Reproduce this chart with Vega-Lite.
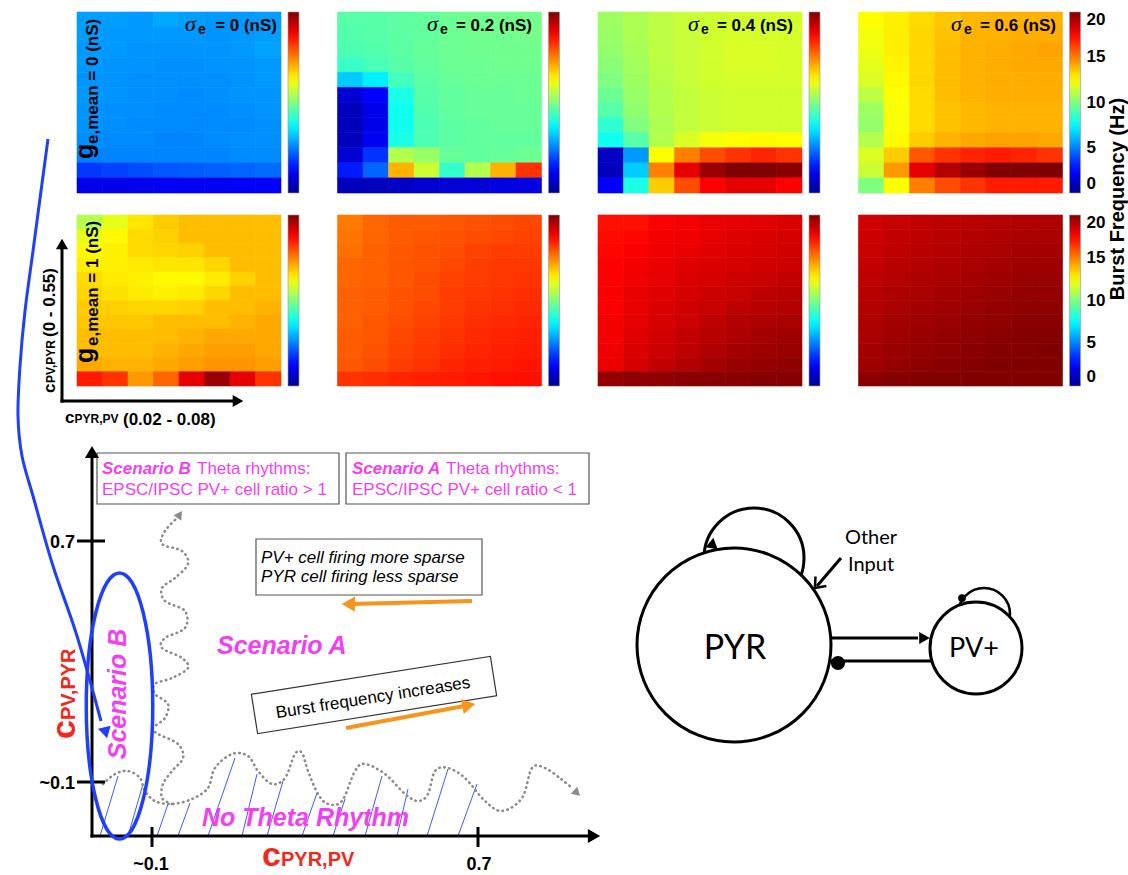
{
"$schema":"https://vega.github.io/schema/vega-lite/v6.json",
"padding":{"left":11,"top":11,"right":0,"bottom":0},
"autosize":{"type":"pad"},
"bounds":"flush",
"columns":4,
"spacing":{"row":22,"column":56.5},
"align":{"row":"each","column":"all"},
"config":{"view":{"stroke":null},"font":"Liberation Sans"},
"resolve":{"scale":{"color":"independent","stroke":"independent"},"legend":{"color":"independent"}},
"datasets":{
"cells":[
{"p":1,"i":0,"j":11,"v":5.6},{"p":1,"i":1,"j":11,"v":5.6},{"p":1,"i":2,"j":11,"v":5.5},{"p":1,"i":3,"j":11,"v":5.8},{"p":1,"i":4,"j":11,"v":5.6},{"p":1,"i":5,"j":11,"v":5.5},{"p":1,"i":6,"j":11,"v":5.5},{"p":1,"i":7,"j":11,"v":5.6},
{"p":1,"i":0,"j":10,"v":5.6},{"p":1,"i":1,"j":10,"v":5.5},{"p":1,"i":2,"j":10,"v":5.5},{"p":1,"i":3,"j":10,"v":5.5},{"p":1,"i":4,"j":10,"v":5.5},{"p":1,"i":5,"j":10,"v":5.4},{"p":1,"i":6,"j":10,"v":5.5},{"p":1,"i":7,"j":10,"v":5.6},
{"p":1,"i":0,"j":9,"v":5.5},{"p":1,"i":1,"j":9,"v":5.5},{"p":1,"i":2,"j":9,"v":5.4},{"p":1,"i":3,"j":9,"v":5.4},{"p":1,"i":4,"j":9,"v":5.4},{"p":1,"i":5,"j":9,"v":5.4},{"p":1,"i":6,"j":9,"v":5.5},{"p":1,"i":7,"j":9,"v":5.7},
{"p":1,"i":0,"j":8,"v":5.5},{"p":1,"i":1,"j":8,"v":5.4},{"p":1,"i":2,"j":8,"v":5.4},{"p":1,"i":3,"j":8,"v":5.3},{"p":1,"i":4,"j":8,"v":5.3},{"p":1,"i":5,"j":8,"v":5.4},{"p":1,"i":6,"j":8,"v":5.4},{"p":1,"i":7,"j":8,"v":5.5},
{"p":1,"i":0,"j":7,"v":5.4},{"p":1,"i":1,"j":7,"v":5.4},{"p":1,"i":2,"j":7,"v":5.3},{"p":1,"i":3,"j":7,"v":5.3},{"p":1,"i":4,"j":7,"v":5.3},{"p":1,"i":5,"j":7,"v":5.3},{"p":1,"i":6,"j":7,"v":5.4},{"p":1,"i":7,"j":7,"v":5.5},
{"p":1,"i":0,"j":6,"v":5.5},{"p":1,"i":1,"j":6,"v":5.4},{"p":1,"i":2,"j":6,"v":5.3},{"p":1,"i":3,"j":6,"v":5.3},{"p":1,"i":4,"j":6,"v":5.2},{"p":1,"i":5,"j":6,"v":5.3},{"p":1,"i":6,"j":6,"v":5.4},{"p":1,"i":7,"j":6,"v":5.4},
{"p":1,"i":0,"j":5,"v":5.4},{"p":1,"i":1,"j":5,"v":5.3},{"p":1,"i":2,"j":5,"v":5.3},{"p":1,"i":3,"j":5,"v":5.2},{"p":1,"i":4,"j":5,"v":5.2},{"p":1,"i":5,"j":5,"v":5.2},{"p":1,"i":6,"j":5,"v":5.3},{"p":1,"i":7,"j":5,"v":5.4},
{"p":1,"i":0,"j":4,"v":5.4},{"p":1,"i":1,"j":4,"v":5.3},{"p":1,"i":2,"j":4,"v":5.2},{"p":1,"i":3,"j":4,"v":5.2},{"p":1,"i":4,"j":4,"v":5.2},{"p":1,"i":5,"j":4,"v":5.2},{"p":1,"i":6,"j":4,"v":5.2},{"p":1,"i":7,"j":4,"v":5.3},
{"p":1,"i":0,"j":3,"v":5.3},{"p":1,"i":1,"j":3,"v":5.2},{"p":1,"i":2,"j":3,"v":5.2},{"p":1,"i":3,"j":3,"v":5.1},{"p":1,"i":4,"j":3,"v":5.1},{"p":1,"i":5,"j":3,"v":5.2},{"p":1,"i":6,"j":3,"v":5.3},{"p":1,"i":7,"j":3,"v":5.3},
{"p":1,"i":0,"j":2,"v":5.0},{"p":1,"i":1,"j":2,"v":5.1},{"p":1,"i":2,"j":2,"v":5.1},{"p":1,"i":3,"j":2,"v":5.1},{"p":1,"i":4,"j":2,"v":5.1},{"p":1,"i":5,"j":2,"v":5.1},{"p":1,"i":6,"j":2,"v":5.2},{"p":1,"i":7,"j":2,"v":5.2},
{"p":1,"i":0,"j":1,"v":3.6},{"p":1,"i":1,"j":1,"v":3.8},{"p":1,"i":2,"j":1,"v":4.0},{"p":1,"i":3,"j":1,"v":4.2},{"p":1,"i":4,"j":1,"v":4.3},{"p":1,"i":5,"j":1,"v":4.4},{"p":1,"i":6,"j":1,"v":4.5},{"p":1,"i":7,"j":1,"v":4.6},
{"p":1,"i":0,"j":0,"v":2.0},{"p":1,"i":1,"j":0,"v":2.0},{"p":1,"i":2,"j":0,"v":2.1},{"p":1,"i":3,"j":0,"v":2.2},{"p":1,"i":4,"j":0,"v":2.2},{"p":1,"i":5,"j":0,"v":2.2},{"p":1,"i":6,"j":0,"v":2.3},{"p":1,"i":7,"j":0,"v":2.3},
{"p":2,"i":0,"j":11,"v":9.2},{"p":2,"i":1,"j":11,"v":9.2},{"p":2,"i":2,"j":11,"v":9.3},{"p":2,"i":3,"j":11,"v":9.4},{"p":2,"i":4,"j":11,"v":9.6},{"p":2,"i":5,"j":11,"v":9.7},{"p":2,"i":6,"j":11,"v":9.7},{"p":2,"i":7,"j":11,"v":9.8},
{"p":2,"i":0,"j":10,"v":9.1},{"p":2,"i":1,"j":10,"v":9.2},{"p":2,"i":2,"j":10,"v":9.3},{"p":2,"i":3,"j":10,"v":9.4},{"p":2,"i":4,"j":10,"v":9.6},{"p":2,"i":5,"j":10,"v":9.7},{"p":2,"i":6,"j":10,"v":9.7},{"p":2,"i":7,"j":10,"v":9.8},
{"p":2,"i":0,"j":9,"v":9.0},{"p":2,"i":1,"j":9,"v":9.1},{"p":2,"i":2,"j":9,"v":9.3},{"p":2,"i":3,"j":9,"v":9.5},{"p":2,"i":4,"j":9,"v":9.6},{"p":2,"i":5,"j":9,"v":9.7},{"p":2,"i":6,"j":9,"v":9.7},{"p":2,"i":7,"j":9,"v":9.7},
{"p":2,"i":0,"j":8,"v":8.6},{"p":2,"i":1,"j":8,"v":8.9},{"p":2,"i":2,"j":8,"v":9.2},{"p":2,"i":3,"j":8,"v":9.4},{"p":2,"i":4,"j":8,"v":9.6},{"p":2,"i":5,"j":8,"v":9.6},{"p":2,"i":6,"j":8,"v":9.7},{"p":2,"i":7,"j":8,"v":9.7},
{"p":2,"i":0,"j":7,"v":6.5},{"p":2,"i":1,"j":7,"v":7.2},{"p":2,"i":2,"j":7,"v":8.8},{"p":2,"i":3,"j":7,"v":9.3},{"p":2,"i":4,"j":7,"v":9.5},{"p":2,"i":5,"j":7,"v":9.6},{"p":2,"i":6,"j":7,"v":9.6},{"p":2,"i":7,"j":7,"v":9.6},
{"p":2,"i":0,"j":6,"v":1.5},{"p":2,"i":1,"j":6,"v":2.5},{"p":2,"i":2,"j":6,"v":8.0},{"p":2,"i":3,"j":6,"v":9.2},{"p":2,"i":4,"j":6,"v":9.4},{"p":2,"i":5,"j":6,"v":9.5},{"p":2,"i":6,"j":6,"v":9.5},{"p":2,"i":7,"j":6,"v":9.6},
{"p":2,"i":0,"j":5,"v":1.0},{"p":2,"i":1,"j":5,"v":2.0},{"p":2,"i":2,"j":5,"v":7.8},{"p":2,"i":3,"j":5,"v":9.1},{"p":2,"i":4,"j":5,"v":9.4},{"p":2,"i":5,"j":5,"v":9.5},{"p":2,"i":6,"j":5,"v":9.5},{"p":2,"i":7,"j":5,"v":9.5},
{"p":2,"i":0,"j":4,"v":1.0},{"p":2,"i":1,"j":4,"v":2.0},{"p":2,"i":2,"j":4,"v":7.8},{"p":2,"i":3,"j":4,"v":9.0},{"p":2,"i":4,"j":4,"v":9.3},{"p":2,"i":5,"j":4,"v":9.4},{"p":2,"i":6,"j":4,"v":9.5},{"p":2,"i":7,"j":4,"v":9.5},
{"p":2,"i":0,"j":3,"v":1.0},{"p":2,"i":1,"j":3,"v":2.2},{"p":2,"i":2,"j":3,"v":8.0},{"p":2,"i":3,"j":3,"v":9.0},{"p":2,"i":4,"j":3,"v":9.3},{"p":2,"i":5,"j":3,"v":9.4},{"p":2,"i":6,"j":3,"v":9.4},{"p":2,"i":7,"j":3,"v":9.4},
{"p":2,"i":0,"j":2,"v":1.5},{"p":2,"i":1,"j":2,"v":3.5},{"p":2,"i":2,"j":2,"v":11.0},{"p":2,"i":3,"j":2,"v":10.5},{"p":2,"i":4,"j":2,"v":9.5},{"p":2,"i":5,"j":2,"v":9.4},{"p":2,"i":6,"j":2,"v":9.5},{"p":2,"i":7,"j":2,"v":9.6},
{"p":2,"i":0,"j":1,"v":3.0},{"p":2,"i":1,"j":1,"v":4.5},{"p":2,"i":2,"j":1,"v":14.0},{"p":2,"i":3,"j":1,"v":11.5},{"p":2,"i":4,"j":1,"v":8.5},{"p":2,"i":5,"j":1,"v":11.0},{"p":2,"i":6,"j":1,"v":14.0},{"p":2,"i":7,"j":1,"v":16.5},
{"p":2,"i":0,"j":0,"v":1.0},{"p":2,"i":1,"j":0,"v":1.0},{"p":2,"i":2,"j":0,"v":1.2},{"p":2,"i":3,"j":0,"v":1.4},{"p":2,"i":4,"j":0,"v":1.6},{"p":2,"i":5,"j":0,"v":1.6},{"p":2,"i":6,"j":0,"v":1.8},{"p":2,"i":7,"j":0,"v":1.8},
{"p":3,"i":0,"j":11,"v":10.6},{"p":3,"i":1,"j":11,"v":10.9},{"p":3,"i":2,"j":11,"v":11.2},{"p":3,"i":3,"j":11,"v":11.4},{"p":3,"i":4,"j":11,"v":11.5},{"p":3,"i":5,"j":11,"v":11.6},{"p":3,"i":6,"j":11,"v":11.6},{"p":3,"i":7,"j":11,"v":11.7},
{"p":3,"i":0,"j":10,"v":10.5},{"p":3,"i":1,"j":10,"v":10.9},{"p":3,"i":2,"j":10,"v":11.2},{"p":3,"i":3,"j":10,"v":11.4},{"p":3,"i":4,"j":10,"v":11.6},{"p":3,"i":5,"j":10,"v":11.7},{"p":3,"i":6,"j":10,"v":11.7},{"p":3,"i":7,"j":10,"v":11.7},
{"p":3,"i":0,"j":9,"v":10.4},{"p":3,"i":1,"j":9,"v":10.8},{"p":3,"i":2,"j":9,"v":11.2},{"p":3,"i":3,"j":9,"v":11.4},{"p":3,"i":4,"j":9,"v":11.6},{"p":3,"i":5,"j":9,"v":11.8},{"p":3,"i":6,"j":9,"v":11.8},{"p":3,"i":7,"j":9,"v":11.7},
{"p":3,"i":0,"j":8,"v":10.2},{"p":3,"i":1,"j":8,"v":10.7},{"p":3,"i":2,"j":8,"v":11.2},{"p":3,"i":3,"j":8,"v":11.4},{"p":3,"i":4,"j":8,"v":11.6},{"p":3,"i":5,"j":8,"v":11.8},{"p":3,"i":6,"j":8,"v":11.8},{"p":3,"i":7,"j":8,"v":11.7},
{"p":3,"i":0,"j":7,"v":10.0},{"p":3,"i":1,"j":7,"v":10.6},{"p":3,"i":2,"j":7,"v":11.1},{"p":3,"i":3,"j":7,"v":11.4},{"p":3,"i":4,"j":7,"v":11.6},{"p":3,"i":5,"j":7,"v":11.7},{"p":3,"i":6,"j":7,"v":11.7},{"p":3,"i":7,"j":7,"v":11.7},
{"p":3,"i":0,"j":6,"v":9.6},{"p":3,"i":1,"j":6,"v":10.5},{"p":3,"i":2,"j":6,"v":11.0},{"p":3,"i":3,"j":6,"v":11.3},{"p":3,"i":4,"j":6,"v":11.5},{"p":3,"i":5,"j":6,"v":11.6},{"p":3,"i":6,"j":6,"v":11.6},{"p":3,"i":7,"j":6,"v":11.6},
{"p":3,"i":0,"j":5,"v":9.2},{"p":3,"i":1,"j":5,"v":10.3},{"p":3,"i":2,"j":5,"v":11.0},{"p":3,"i":3,"j":5,"v":11.3},{"p":3,"i":4,"j":5,"v":11.5},{"p":3,"i":5,"j":5,"v":11.6},{"p":3,"i":6,"j":5,"v":11.6},{"p":3,"i":7,"j":5,"v":11.6},
{"p":3,"i":0,"j":4,"v":8.4},{"p":3,"i":1,"j":4,"v":10.0},{"p":3,"i":2,"j":4,"v":10.9},{"p":3,"i":3,"j":4,"v":11.3},{"p":3,"i":4,"j":4,"v":11.5},{"p":3,"i":5,"j":4,"v":11.6},{"p":3,"i":6,"j":4,"v":11.6},{"p":3,"i":7,"j":4,"v":11.6},
{"p":3,"i":0,"j":3,"v":7.8},{"p":3,"i":1,"j":3,"v":9.2},{"p":3,"i":2,"j":3,"v":11.0},{"p":3,"i":3,"j":3,"v":11.8},{"p":3,"i":4,"j":3,"v":12.3},{"p":3,"i":5,"j":3,"v":12.5},{"p":3,"i":6,"j":3,"v":12.6},{"p":3,"i":7,"j":3,"v":12.5},
{"p":3,"i":0,"j":2,"v":1.2},{"p":3,"i":1,"j":2,"v":5.5},{"p":3,"i":2,"j":2,"v":12.5},{"p":3,"i":3,"j":2,"v":15.0},{"p":3,"i":4,"j":2,"v":16.0},{"p":3,"i":5,"j":2,"v":16.5},{"p":3,"i":6,"j":2,"v":16.8},{"p":3,"i":7,"j":2,"v":16.5},
{"p":3,"i":0,"j":1,"v":1.0},{"p":3,"i":1,"j":1,"v":6.5},{"p":3,"i":2,"j":1,"v":15.0},{"p":3,"i":3,"j":1,"v":18.0},{"p":3,"i":4,"j":1,"v":19.5},{"p":3,"i":5,"j":1,"v":20.0},{"p":3,"i":6,"j":1,"v":20.0},{"p":3,"i":7,"j":1,"v":19.8},
{"p":3,"i":0,"j":0,"v":2.5},{"p":3,"i":1,"j":0,"v":8.0},{"p":3,"i":2,"j":0,"v":13.5},{"p":3,"i":3,"j":0,"v":16.0},{"p":3,"i":4,"j":0,"v":17.5},{"p":3,"i":5,"j":0,"v":18.0},{"p":3,"i":6,"j":0,"v":18.0},{"p":3,"i":7,"j":0,"v":17.5},
{"p":4,"i":0,"j":11,"v":12.5},{"p":4,"i":1,"j":11,"v":12.8},{"p":4,"i":2,"j":11,"v":13.2},{"p":4,"i":3,"j":11,"v":13.6},{"p":4,"i":4,"j":11,"v":13.9},{"p":4,"i":5,"j":11,"v":14.0},{"p":4,"i":6,"j":11,"v":14.0},{"p":4,"i":7,"j":11,"v":14.0},
{"p":4,"i":0,"j":10,"v":12.3},{"p":4,"i":1,"j":10,"v":12.8},{"p":4,"i":2,"j":10,"v":13.3},{"p":4,"i":3,"j":10,"v":13.7},{"p":4,"i":4,"j":10,"v":14.0},{"p":4,"i":5,"j":10,"v":14.0},{"p":4,"i":6,"j":10,"v":14.1},{"p":4,"i":7,"j":10,"v":14.1},
{"p":4,"i":0,"j":9,"v":12.2},{"p":4,"i":1,"j":9,"v":12.8},{"p":4,"i":2,"j":9,"v":13.3},{"p":4,"i":3,"j":9,"v":13.8},{"p":4,"i":4,"j":9,"v":14.0},{"p":4,"i":5,"j":9,"v":14.1},{"p":4,"i":6,"j":9,"v":14.2},{"p":4,"i":7,"j":9,"v":14.3},
{"p":4,"i":0,"j":8,"v":12.0},{"p":4,"i":1,"j":8,"v":12.7},{"p":4,"i":2,"j":8,"v":13.3},{"p":4,"i":3,"j":8,"v":13.8},{"p":4,"i":4,"j":8,"v":14.0},{"p":4,"i":5,"j":8,"v":14.1},{"p":4,"i":6,"j":8,"v":14.2},{"p":4,"i":7,"j":8,"v":14.2},
{"p":4,"i":0,"j":7,"v":11.8},{"p":4,"i":1,"j":7,"v":12.6},{"p":4,"i":2,"j":7,"v":13.3},{"p":4,"i":3,"j":7,"v":13.8},{"p":4,"i":4,"j":7,"v":14.0},{"p":4,"i":5,"j":7,"v":14.1},{"p":4,"i":6,"j":7,"v":14.1},{"p":4,"i":7,"j":7,"v":14.1},
{"p":4,"i":0,"j":6,"v":11.2},{"p":4,"i":1,"j":6,"v":12.5},{"p":4,"i":2,"j":6,"v":13.2},{"p":4,"i":3,"j":6,"v":13.8},{"p":4,"i":4,"j":6,"v":14.0},{"p":4,"i":5,"j":6,"v":14.1},{"p":4,"i":6,"j":6,"v":14.1},{"p":4,"i":7,"j":6,"v":14.1},
{"p":4,"i":0,"j":5,"v":10.6},{"p":4,"i":1,"j":5,"v":12.4},{"p":4,"i":2,"j":5,"v":13.2},{"p":4,"i":3,"j":5,"v":13.7},{"p":4,"i":4,"j":5,"v":13.9},{"p":4,"i":5,"j":5,"v":14.0},{"p":4,"i":6,"j":5,"v":14.0},{"p":4,"i":7,"j":5,"v":14.0},
{"p":4,"i":0,"j":4,"v":10.4},{"p":4,"i":1,"j":4,"v":12.4},{"p":4,"i":2,"j":4,"v":13.2},{"p":4,"i":3,"j":4,"v":13.7},{"p":4,"i":4,"j":4,"v":13.9},{"p":4,"i":5,"j":4,"v":14.0},{"p":4,"i":6,"j":4,"v":14.0},{"p":4,"i":7,"j":4,"v":14.0},
{"p":4,"i":0,"j":3,"v":11.0},{"p":4,"i":1,"j":3,"v":12.6},{"p":4,"i":2,"j":3,"v":13.5},{"p":4,"i":3,"j":3,"v":14.0},{"p":4,"i":4,"j":3,"v":14.2},{"p":4,"i":5,"j":3,"v":14.3},{"p":4,"i":6,"j":3,"v":14.3},{"p":4,"i":7,"j":3,"v":14.2},
{"p":4,"i":0,"j":2,"v":11.8},{"p":4,"i":1,"j":2,"v":13.5},{"p":4,"i":2,"j":2,"v":15.8},{"p":4,"i":3,"j":2,"v":16.5},{"p":4,"i":4,"j":2,"v":16.8},{"p":4,"i":5,"j":2,"v":17.0},{"p":4,"i":6,"j":2,"v":16.8},{"p":4,"i":7,"j":2,"v":16.5},
{"p":4,"i":0,"j":1,"v":11.5},{"p":4,"i":1,"j":1,"v":14.5},{"p":4,"i":2,"j":1,"v":18.0},{"p":4,"i":3,"j":1,"v":19.0},{"p":4,"i":4,"j":1,"v":19.5},{"p":4,"i":5,"j":1,"v":20.0},{"p":4,"i":6,"j":1,"v":20.0},{"p":4,"i":7,"j":1,"v":20.0},
{"p":4,"i":0,"j":0,"v":10.0},{"p":4,"i":1,"j":0,"v":12.5},{"p":4,"i":2,"j":0,"v":15.0},{"p":4,"i":3,"j":0,"v":16.0},{"p":4,"i":4,"j":0,"v":16.5},{"p":4,"i":5,"j":0,"v":17.0},{"p":4,"i":6,"j":0,"v":17.0},{"p":4,"i":7,"j":0,"v":17.0},
{"p":5,"i":0,"j":11,"v":11.0},{"p":5,"i":1,"j":11,"v":12.0},{"p":5,"i":2,"j":11,"v":13.0},{"p":5,"i":3,"j":11,"v":13.5},{"p":5,"i":4,"j":11,"v":13.8},{"p":5,"i":5,"j":11,"v":13.8},{"p":5,"i":6,"j":11,"v":13.8},{"p":5,"i":7,"j":11,"v":13.8},
{"p":5,"i":0,"j":10,"v":12.0},{"p":5,"i":1,"j":10,"v":12.6},{"p":5,"i":2,"j":10,"v":13.2},{"p":5,"i":3,"j":10,"v":13.4},{"p":5,"i":4,"j":10,"v":13.8},{"p":5,"i":5,"j":10,"v":13.8},{"p":5,"i":6,"j":10,"v":13.8},{"p":5,"i":7,"j":10,"v":13.8},
{"p":5,"i":0,"j":9,"v":12.6},{"p":5,"i":1,"j":9,"v":12.8},{"p":5,"i":2,"j":9,"v":13.2},{"p":5,"i":3,"j":9,"v":13.3},{"p":5,"i":4,"j":9,"v":13.4},{"p":5,"i":5,"j":9,"v":13.8},{"p":5,"i":6,"j":9,"v":13.8},{"p":5,"i":7,"j":9,"v":13.8},
{"p":5,"i":0,"j":8,"v":12.8},{"p":5,"i":1,"j":8,"v":12.8},{"p":5,"i":2,"j":8,"v":12.9},{"p":5,"i":3,"j":8,"v":13.0},{"p":5,"i":4,"j":8,"v":13.0},{"p":5,"i":5,"j":8,"v":13.3},{"p":5,"i":6,"j":8,"v":13.8},{"p":5,"i":7,"j":8,"v":13.8},
{"p":5,"i":0,"j":7,"v":13.2},{"p":5,"i":1,"j":7,"v":12.9},{"p":5,"i":2,"j":7,"v":12.8},{"p":5,"i":3,"j":7,"v":12.6},{"p":5,"i":4,"j":7,"v":12.6},{"p":5,"i":5,"j":7,"v":12.9},{"p":5,"i":6,"j":7,"v":13.4},{"p":5,"i":7,"j":7,"v":13.8},
{"p":5,"i":0,"j":6,"v":13.3},{"p":5,"i":1,"j":6,"v":13.1},{"p":5,"i":2,"j":6,"v":12.9},{"p":5,"i":3,"j":6,"v":12.8},{"p":5,"i":4,"j":6,"v":12.9},{"p":5,"i":5,"j":6,"v":13.3},{"p":5,"i":6,"j":6,"v":13.8},{"p":5,"i":7,"j":6,"v":13.8},
{"p":5,"i":0,"j":5,"v":13.5},{"p":5,"i":1,"j":5,"v":13.4},{"p":5,"i":2,"j":5,"v":13.3},{"p":5,"i":3,"j":5,"v":13.3},{"p":5,"i":4,"j":5,"v":13.4},{"p":5,"i":5,"j":5,"v":13.8},{"p":5,"i":6,"j":5,"v":13.8},{"p":5,"i":7,"j":5,"v":14.0},
{"p":5,"i":0,"j":4,"v":13.6},{"p":5,"i":1,"j":4,"v":13.6},{"p":5,"i":2,"j":4,"v":13.6},{"p":5,"i":3,"j":4,"v":13.8},{"p":5,"i":4,"j":4,"v":13.8},{"p":5,"i":5,"j":4,"v":13.8},{"p":5,"i":6,"j":4,"v":14.0},{"p":5,"i":7,"j":4,"v":14.2},
{"p":5,"i":0,"j":3,"v":13.8},{"p":5,"i":1,"j":3,"v":13.8},{"p":5,"i":2,"j":3,"v":13.8},{"p":5,"i":3,"j":3,"v":13.8},{"p":5,"i":4,"j":3,"v":14.0},{"p":5,"i":5,"j":3,"v":14.2},{"p":5,"i":6,"j":3,"v":14.2},{"p":5,"i":7,"j":3,"v":14.2},
{"p":5,"i":0,"j":2,"v":13.8},{"p":5,"i":1,"j":2,"v":13.8},{"p":5,"i":2,"j":2,"v":13.8},{"p":5,"i":3,"j":2,"v":14.0},{"p":5,"i":4,"j":2,"v":14.2},{"p":5,"i":5,"j":2,"v":14.4},{"p":5,"i":6,"j":2,"v":14.4},{"p":5,"i":7,"j":2,"v":14.2},
{"p":5,"i":0,"j":1,"v":14.2},{"p":5,"i":1,"j":1,"v":14.0},{"p":5,"i":2,"j":1,"v":14.0},{"p":5,"i":3,"j":1,"v":14.2},{"p":5,"i":4,"j":1,"v":14.4},{"p":5,"i":5,"j":1,"v":14.6},{"p":5,"i":6,"j":1,"v":14.6},{"p":5,"i":7,"j":1,"v":14.4},
{"p":5,"i":0,"j":0,"v":17.0},{"p":5,"i":1,"j":0,"v":16.5},{"p":5,"i":2,"j":0,"v":14.5},{"p":5,"i":3,"j":0,"v":15.5},{"p":5,"i":4,"j":0,"v":18.0},{"p":5,"i":5,"j":0,"v":19.5},{"p":5,"i":6,"j":0,"v":18.0},{"p":5,"i":7,"j":0,"v":16.5},
{"p":6,"i":0,"j":11,"v":15.1},{"p":6,"i":1,"j":11,"v":15.5},{"p":6,"i":2,"j":11,"v":15.7},{"p":6,"i":3,"j":11,"v":15.7},{"p":6,"i":4,"j":11,"v":15.8},{"p":6,"i":5,"j":11,"v":15.9},{"p":6,"i":6,"j":11,"v":16.0},{"p":6,"i":7,"j":11,"v":16.1},
{"p":6,"i":0,"j":10,"v":15.2},{"p":6,"i":1,"j":10,"v":15.5},{"p":6,"i":2,"j":10,"v":15.7},{"p":6,"i":3,"j":10,"v":15.8},{"p":6,"i":4,"j":10,"v":15.9},{"p":6,"i":5,"j":10,"v":16.0},{"p":6,"i":6,"j":10,"v":16.1},{"p":6,"i":7,"j":10,"v":16.2},
{"p":6,"i":0,"j":9,"v":15.3},{"p":6,"i":1,"j":9,"v":15.6},{"p":6,"i":2,"j":9,"v":15.8},{"p":6,"i":3,"j":9,"v":15.9},{"p":6,"i":4,"j":9,"v":16.0},{"p":6,"i":5,"j":9,"v":16.2},{"p":6,"i":6,"j":9,"v":16.3},{"p":6,"i":7,"j":9,"v":16.3},
{"p":6,"i":0,"j":8,"v":15.5},{"p":6,"i":1,"j":8,"v":15.6},{"p":6,"i":2,"j":8,"v":15.8},{"p":6,"i":3,"j":8,"v":15.9},{"p":6,"i":4,"j":8,"v":16.1},{"p":6,"i":5,"j":8,"v":16.3},{"p":6,"i":6,"j":8,"v":16.4},{"p":6,"i":7,"j":8,"v":16.4},
{"p":6,"i":0,"j":7,"v":15.5},{"p":6,"i":1,"j":7,"v":15.6},{"p":6,"i":2,"j":7,"v":15.8},{"p":6,"i":3,"j":7,"v":16.0},{"p":6,"i":4,"j":7,"v":16.2},{"p":6,"i":5,"j":7,"v":16.3},{"p":6,"i":6,"j":7,"v":16.4},{"p":6,"i":7,"j":7,"v":16.5},
{"p":6,"i":0,"j":6,"v":15.6},{"p":6,"i":1,"j":6,"v":15.7},{"p":6,"i":2,"j":6,"v":15.9},{"p":6,"i":3,"j":6,"v":16.0},{"p":6,"i":4,"j":6,"v":16.3},{"p":6,"i":5,"j":6,"v":16.4},{"p":6,"i":6,"j":6,"v":16.5},{"p":6,"i":7,"j":6,"v":16.6},
{"p":6,"i":0,"j":5,"v":15.6},{"p":6,"i":1,"j":5,"v":15.7},{"p":6,"i":2,"j":5,"v":15.9},{"p":6,"i":3,"j":5,"v":16.1},{"p":6,"i":4,"j":5,"v":16.3},{"p":6,"i":5,"j":5,"v":16.5},{"p":6,"i":6,"j":5,"v":16.6},{"p":6,"i":7,"j":5,"v":16.7},
{"p":6,"i":0,"j":4,"v":15.6},{"p":6,"i":1,"j":4,"v":15.8},{"p":6,"i":2,"j":4,"v":16.0},{"p":6,"i":3,"j":4,"v":16.2},{"p":6,"i":4,"j":4,"v":16.4},{"p":6,"i":5,"j":4,"v":16.6},{"p":6,"i":6,"j":4,"v":16.7},{"p":6,"i":7,"j":4,"v":16.8},
{"p":6,"i":0,"j":3,"v":15.7},{"p":6,"i":1,"j":3,"v":15.8},{"p":6,"i":2,"j":3,"v":16.1},{"p":6,"i":3,"j":3,"v":16.3},{"p":6,"i":4,"j":3,"v":16.5},{"p":6,"i":5,"j":3,"v":16.7},{"p":6,"i":6,"j":3,"v":16.8},{"p":6,"i":7,"j":3,"v":16.9},
{"p":6,"i":0,"j":2,"v":15.7},{"p":6,"i":1,"j":2,"v":15.9},{"p":6,"i":2,"j":2,"v":16.2},{"p":6,"i":3,"j":2,"v":16.4},{"p":6,"i":4,"j":2,"v":16.6},{"p":6,"i":5,"j":2,"v":16.8},{"p":6,"i":6,"j":2,"v":16.9},{"p":6,"i":7,"j":2,"v":17.0},
{"p":6,"i":0,"j":1,"v":15.8},{"p":6,"i":1,"j":1,"v":16.0},{"p":6,"i":2,"j":1,"v":16.3},{"p":6,"i":3,"j":1,"v":16.5},{"p":6,"i":4,"j":1,"v":16.8},{"p":6,"i":5,"j":1,"v":16.9},{"p":6,"i":6,"j":1,"v":17.0},{"p":6,"i":7,"j":1,"v":17.1},
{"p":6,"i":0,"j":0,"v":16.5},{"p":6,"i":1,"j":0,"v":16.6},{"p":6,"i":2,"j":0,"v":16.8},{"p":6,"i":3,"j":0,"v":16.9},{"p":6,"i":4,"j":0,"v":17.0},{"p":6,"i":5,"j":0,"v":17.1},{"p":6,"i":6,"j":0,"v":17.2},{"p":6,"i":7,"j":0,"v":17.2},
{"p":7,"i":0,"j":11,"v":17.2},{"p":7,"i":1,"j":11,"v":17.2},{"p":7,"i":2,"j":11,"v":17.6},{"p":7,"i":3,"j":11,"v":17.7},{"p":7,"i":4,"j":11,"v":17.9},{"p":7,"i":5,"j":11,"v":18.0},{"p":7,"i":6,"j":11,"v":18.1},{"p":7,"i":7,"j":11,"v":18.2},
{"p":7,"i":0,"j":10,"v":17.3},{"p":7,"i":1,"j":10,"v":17.4},{"p":7,"i":2,"j":10,"v":17.7},{"p":7,"i":3,"j":10,"v":17.8},{"p":7,"i":4,"j":10,"v":18.0},{"p":7,"i":5,"j":10,"v":18.1},{"p":7,"i":6,"j":10,"v":18.2},{"p":7,"i":7,"j":10,"v":18.3},
{"p":7,"i":0,"j":9,"v":17.4},{"p":7,"i":1,"j":9,"v":17.6},{"p":7,"i":2,"j":9,"v":17.8},{"p":7,"i":3,"j":9,"v":17.9},{"p":7,"i":4,"j":9,"v":18.1},{"p":7,"i":5,"j":9,"v":18.2},{"p":7,"i":6,"j":9,"v":18.3},{"p":7,"i":7,"j":9,"v":18.4},
{"p":7,"i":0,"j":8,"v":17.5},{"p":7,"i":1,"j":8,"v":17.7},{"p":7,"i":2,"j":8,"v":17.9},{"p":7,"i":3,"j":8,"v":18.1},{"p":7,"i":4,"j":8,"v":18.2},{"p":7,"i":5,"j":8,"v":18.3},{"p":7,"i":6,"j":8,"v":18.4},{"p":7,"i":7,"j":8,"v":18.5},
{"p":7,"i":0,"j":7,"v":17.5},{"p":7,"i":1,"j":7,"v":17.8},{"p":7,"i":2,"j":7,"v":18.0},{"p":7,"i":3,"j":7,"v":18.2},{"p":7,"i":4,"j":7,"v":18.3},{"p":7,"i":5,"j":7,"v":18.5},{"p":7,"i":6,"j":7,"v":18.6},{"p":7,"i":7,"j":7,"v":18.7},
{"p":7,"i":0,"j":6,"v":17.6},{"p":7,"i":1,"j":6,"v":17.9},{"p":7,"i":2,"j":6,"v":18.1},{"p":7,"i":3,"j":6,"v":18.3},{"p":7,"i":4,"j":6,"v":18.5},{"p":7,"i":5,"j":6,"v":18.6},{"p":7,"i":6,"j":6,"v":18.8},{"p":7,"i":7,"j":6,"v":18.9},
{"p":7,"i":0,"j":5,"v":17.6},{"p":7,"i":1,"j":5,"v":17.9},{"p":7,"i":2,"j":5,"v":18.2},{"p":7,"i":3,"j":5,"v":18.4},{"p":7,"i":4,"j":5,"v":18.6},{"p":7,"i":5,"j":5,"v":18.8},{"p":7,"i":6,"j":5,"v":18.9},{"p":7,"i":7,"j":5,"v":19.0},
{"p":7,"i":0,"j":4,"v":17.7},{"p":7,"i":1,"j":4,"v":18.0},{"p":7,"i":2,"j":4,"v":18.3},{"p":7,"i":3,"j":4,"v":18.5},{"p":7,"i":4,"j":4,"v":18.8},{"p":7,"i":5,"j":4,"v":19.0},{"p":7,"i":6,"j":4,"v":19.1},{"p":7,"i":7,"j":4,"v":19.2},
{"p":7,"i":0,"j":3,"v":17.7},{"p":7,"i":1,"j":3,"v":18.1},{"p":7,"i":2,"j":3,"v":18.4},{"p":7,"i":3,"j":3,"v":18.7},{"p":7,"i":4,"j":3,"v":18.9},{"p":7,"i":5,"j":3,"v":19.1},{"p":7,"i":6,"j":3,"v":19.3},{"p":7,"i":7,"j":3,"v":19.4},
{"p":7,"i":0,"j":2,"v":17.8},{"p":7,"i":1,"j":2,"v":18.2},{"p":7,"i":2,"j":2,"v":18.5},{"p":7,"i":3,"j":2,"v":18.8},{"p":7,"i":4,"j":2,"v":19.1},{"p":7,"i":5,"j":2,"v":19.3},{"p":7,"i":6,"j":2,"v":19.4},{"p":7,"i":7,"j":2,"v":19.5},
{"p":7,"i":0,"j":1,"v":17.9},{"p":7,"i":1,"j":1,"v":18.3},{"p":7,"i":2,"j":1,"v":18.7},{"p":7,"i":3,"j":1,"v":19.0},{"p":7,"i":4,"j":1,"v":19.3},{"p":7,"i":5,"j":1,"v":19.5},{"p":7,"i":6,"j":1,"v":19.6},{"p":7,"i":7,"j":1,"v":19.7},
{"p":7,"i":0,"j":0,"v":19.6},{"p":7,"i":1,"j":0,"v":19.7},{"p":7,"i":2,"j":0,"v":19.7},{"p":7,"i":3,"j":0,"v":19.8},{"p":7,"i":4,"j":0,"v":19.8},{"p":7,"i":5,"j":0,"v":19.8},{"p":7,"i":6,"j":0,"v":19.9},{"p":7,"i":7,"j":0,"v":19.9},
{"p":8,"i":0,"j":11,"v":18.4},{"p":8,"i":1,"j":11,"v":18.6},{"p":8,"i":2,"j":11,"v":18.7},{"p":8,"i":3,"j":11,"v":18.8},{"p":8,"i":4,"j":11,"v":18.9},{"p":8,"i":5,"j":11,"v":19.0},{"p":8,"i":6,"j":11,"v":19.1},{"p":8,"i":7,"j":11,"v":19.1},
{"p":8,"i":0,"j":10,"v":18.5},{"p":8,"i":1,"j":10,"v":18.7},{"p":8,"i":2,"j":10,"v":18.8},{"p":8,"i":3,"j":10,"v":18.9},{"p":8,"i":4,"j":10,"v":19.0},{"p":8,"i":5,"j":10,"v":19.1},{"p":8,"i":6,"j":10,"v":19.2},{"p":8,"i":7,"j":10,"v":19.2},
{"p":8,"i":0,"j":9,"v":18.6},{"p":8,"i":1,"j":9,"v":18.8},{"p":8,"i":2,"j":9,"v":18.9},{"p":8,"i":3,"j":9,"v":19.0},{"p":8,"i":4,"j":9,"v":19.1},{"p":8,"i":5,"j":9,"v":19.2},{"p":8,"i":6,"j":9,"v":19.3},{"p":8,"i":7,"j":9,"v":19.3},
{"p":8,"i":0,"j":8,"v":18.7},{"p":8,"i":1,"j":8,"v":18.9},{"p":8,"i":2,"j":8,"v":19.0},{"p":8,"i":3,"j":8,"v":19.1},{"p":8,"i":4,"j":8,"v":19.2},{"p":8,"i":5,"j":8,"v":19.3},{"p":8,"i":6,"j":8,"v":19.4},{"p":8,"i":7,"j":8,"v":19.4},
{"p":8,"i":0,"j":7,"v":18.8},{"p":8,"i":1,"j":7,"v":19.0},{"p":8,"i":2,"j":7,"v":19.1},{"p":8,"i":3,"j":7,"v":19.2},{"p":8,"i":4,"j":7,"v":19.3},{"p":8,"i":5,"j":7,"v":19.4},{"p":8,"i":6,"j":7,"v":19.5},{"p":8,"i":7,"j":7,"v":19.5},
{"p":8,"i":0,"j":6,"v":18.9},{"p":8,"i":1,"j":6,"v":19.1},{"p":8,"i":2,"j":6,"v":19.2},{"p":8,"i":3,"j":6,"v":19.3},{"p":8,"i":4,"j":6,"v":19.4},{"p":8,"i":5,"j":6,"v":19.5},{"p":8,"i":6,"j":6,"v":19.6},{"p":8,"i":7,"j":6,"v":19.6},
{"p":8,"i":0,"j":5,"v":19.0},{"p":8,"i":1,"j":5,"v":19.2},{"p":8,"i":2,"j":5,"v":19.3},{"p":8,"i":3,"j":5,"v":19.4},{"p":8,"i":4,"j":5,"v":19.5},{"p":8,"i":5,"j":5,"v":19.6},{"p":8,"i":6,"j":5,"v":19.7},{"p":8,"i":7,"j":5,"v":19.7},
{"p":8,"i":0,"j":4,"v":19.1},{"p":8,"i":1,"j":4,"v":19.3},{"p":8,"i":2,"j":4,"v":19.4},{"p":8,"i":3,"j":4,"v":19.5},{"p":8,"i":4,"j":4,"v":19.6},{"p":8,"i":5,"j":4,"v":19.7},{"p":8,"i":6,"j":4,"v":19.8},{"p":8,"i":7,"j":4,"v":19.8},
{"p":8,"i":0,"j":3,"v":19.2},{"p":8,"i":1,"j":3,"v":19.4},{"p":8,"i":2,"j":3,"v":19.5},{"p":8,"i":3,"j":3,"v":19.6},{"p":8,"i":4,"j":3,"v":19.7},{"p":8,"i":5,"j":3,"v":19.8},{"p":8,"i":6,"j":3,"v":19.9},{"p":8,"i":7,"j":3,"v":19.9},
{"p":8,"i":0,"j":2,"v":19.3},{"p":8,"i":1,"j":2,"v":19.5},{"p":8,"i":2,"j":2,"v":19.6},{"p":8,"i":3,"j":2,"v":19.7},{"p":8,"i":4,"j":2,"v":19.8},{"p":8,"i":5,"j":2,"v":19.9},{"p":8,"i":6,"j":2,"v":19.9},{"p":8,"i":7,"j":2,"v":20.0},
{"p":8,"i":0,"j":1,"v":19.4},{"p":8,"i":1,"j":1,"v":19.6},{"p":8,"i":2,"j":1,"v":19.7},{"p":8,"i":3,"j":1,"v":19.8},{"p":8,"i":4,"j":1,"v":19.9},{"p":8,"i":5,"j":1,"v":20.0},{"p":8,"i":6,"j":1,"v":20.0},{"p":8,"i":7,"j":1,"v":20.0},
{"p":8,"i":0,"j":0,"v":19.8},{"p":8,"i":1,"j":0,"v":19.9},{"p":8,"i":2,"j":0,"v":20.0},{"p":8,"i":3,"j":0,"v":20.0},{"p":8,"i":4,"j":0,"v":20.0},{"p":8,"i":5,"j":0,"v":20.0},{"p":8,"i":6,"j":0,"v":20.0},{"p":8,"i":7,"j":0,"v":20.0}
],
"pts":[
{"g":"c","k":0,"x":43,"y":138},{"g":"c","k":1,"x":36,"y":190},{"g":"c","k":2,"x":28,"y":250},{"g":"c","k":3,"x":20,"y":310},{"g":"c","k":4,"x":15,"y":365},{"g":"c","k":5,"x":13,"y":415},{"g":"c","k":6,"x":17,"y":455},{"g":"c","k":7,"x":28,"y":495},{"g":"c","k":8,"x":48,"y":565},{"g":"c","k":9,"x":72,"y":635},{"g":"c","k":10,"x":96,"y":720},
{"g":"v","k":0,"x":167,"y":803},{"g":"v","k":1,"x":157,"y":797},{"g":"v","k":2,"x":158,"y":783},{"g":"v","k":3,"x":167,"y":770},{"g":"v","k":4,"x":178,"y":757},{"g":"v","k":5,"x":173,"y":743},{"g":"v","k":6,"x":153,"y":733},{"g":"v","k":7,"x":148,"y":727},{"g":"v","k":8,"x":160,"y":717},{"g":"v","k":9,"x":163,"y":703},{"g":"v","k":10,"x":150,"y":693},{"g":"v","k":11,"x":150,"y":683},{"g":"v","k":12,"x":167,"y":677},{"g":"v","k":13,"x":183,"y":667},{"g":"v","k":14,"x":177,"y":657},{"g":"v","k":15,"x":157,"y":647},{"g":"v","k":16,"x":160,"y":637},{"g":"v","k":17,"x":180,"y":627},{"g":"v","k":18,"x":180,"y":610},{"g":"v","k":19,"x":160,"y":600},{"g":"v","k":20,"x":157,"y":587},{"g":"v","k":21,"x":170,"y":577},{"g":"v","k":22,"x":183,"y":563},{"g":"v","k":23,"x":177,"y":550},{"g":"v","k":24,"x":157,"y":543},{"g":"v","k":25,"x":160,"y":530},{"g":"v","k":26,"x":171,"y":518},
{"g":"h","k":0,"x":98,"y":783},{"g":"h","k":1,"x":110,"y":773},{"g":"h","k":2,"x":123,"y":770},{"g":"h","k":3,"x":135,"y":777},{"g":"h","k":4,"x":140,"y":790},{"g":"h","k":5,"x":150,"y":800},{"g":"h","k":6,"x":167,"y":803},{"g":"h","k":7,"x":187,"y":798},{"g":"h","k":8,"x":203,"y":787},{"g":"h","k":9,"x":210,"y":767},{"g":"h","k":10,"x":227,"y":753},{"g":"h","k":11,"x":243,"y":755},{"g":"h","k":12,"x":253,"y":770},{"g":"h","k":13,"x":267,"y":783},{"g":"h","k":14,"x":280,"y":777},{"g":"h","k":15,"x":290,"y":753},{"g":"h","k":16,"x":297,"y":752},{"g":"h","k":17,"x":303,"y":770},{"g":"h","k":18,"x":313,"y":793},{"g":"h","k":19,"x":323,"y":803},{"g":"h","k":20,"x":337,"y":800},{"g":"h","k":21,"x":350,"y":770},{"g":"h","k":22,"x":360,"y":763},{"g":"h","k":23,"x":380,"y":773},{"g":"h","k":24,"x":400,"y":793},{"g":"h","k":25,"x":413,"y":800},{"g":"h","k":26,"x":423,"y":793},{"g":"h","k":27,"x":430,"y":770},{"g":"h","k":28,"x":443,"y":767},{"g":"h","k":29,"x":460,"y":777},{"g":"h","k":30,"x":480,"y":800},{"g":"h","k":31,"x":497,"y":810},{"g":"h","k":32,"x":517,"y":797},{"g":"h","k":33,"x":527,"y":767},{"g":"h","k":34,"x":540,"y":767},{"g":"h","k":35,"x":556,"y":778},{"g":"h","k":36,"x":567,"y":787}
],
"segs":[
{"r":"hatch","x":95,"y":835,"x2":113,"y2":775},{"r":"hatch","x":123,"y":835,"x2":138,"y2":783},{"r":"hatch","x":152,"y":835,"x2":163,"y2":803},{"r":"hatch","x":173,"y":835,"x2":185,"y2":802},{"r":"hatch","x":203,"y":835,"x2":230,"y2":757},{"r":"hatch","x":237,"y":835,"x2":252,"y2":773},{"r":"hatch","x":262,"y":835,"x2":278,"y2":780},{"r":"hatch","x":297,"y":835,"x2":312,"y2":792},{"r":"hatch","x":328,"y":835,"x2":340,"y2":798},{"r":"hatch","x":360,"y":835,"x2":377,"y2":775},{"r":"hatch","x":392,"y":835,"x2":403,"y2":788},{"r":"hatch","x":422,"y":835,"x2":443,"y2":768},{"r":"hatch","x":453,"y":835,"x2":472,"y2":783},
{"r":"ax","x":87,"y":836.5,"x2":87,"y2":452},{"r":"ax","x":85.5,"y":835,"x2":590,"y2":835},
{"r":"ax","x":72,"y":540,"x2":100,"y2":540},{"r":"ax","x":72,"y":781,"x2":100,"y2":781},{"r":"ax","x":147,"y":826,"x2":147,"y2":846},{"r":"ax","x":473,"y":826,"x2":473,"y2":846},
{"r":"ax","x":57,"y":401.5,"x2":57,"y2":245},{"r":"ax","x":55.5,"y":400,"x2":232,"y2":400},
{"r":"ax","x":826,"y":637,"x2":913,"y2":637},{"r":"ax","x":826,"y":660,"x2":930,"y2":660},{"r":"ax","x":836,"y":557,"x2":812,"y2":585},
{"r":"or","x":467,"y":600,"x2":345,"y2":603},{"r":"or","x":341,"y":727,"x2":462,"y2":704.5}
],
"boxes":[
{"x":92,"y":452,"x2":334,"y2":503},{"x":341,"y":452,"x2":584,"y2":503},{"x":251,"y":538,"x2":477,"y2":594}
],
"syms":[
{"r":"tk","x":87,"y":451,"a":0},{"r":"tk","x":589,"y":835,"a":90},
{"r":"tk2","x":57,"y":243,"a":0},{"r":"tk2","x":233,"y":400,"a":90},{"r":"tk2","x":919.5,"y":637,"a":90},{"r":"tk2","x":707.5,"y":542,"a":10},
{"r":"tb","x":100.7,"y":731.7,"a":166},
{"r":"tg","x":174.7,"y":513.4,"a":34},{"r":"tg","x":572,"y":792,"a":133},
{"r":"to","x":343.4,"y":603,"a":271},{"r":"to","x":463.7,"y":704.2,"a":79},
{"r":"ell","x":114.5,"y":705,"a":0},
{"r":"bbox","x":369,"y":694,"a":351},
{"r":"chev","x":810,"y":587,"a":131},
{"r":"loop1","x":749,"y":557,"a":0},{"r":"loop2","x":979,"y":613,"a":0},
{"r":"pyr","x":729,"y":644,"a":0},{"r":"pv","x":971,"y":647,"a":0},
{"r":"dot1","x":833,"y":662,"a":0},{"r":"dot2","x":957,"y":597,"a":0}
],
"txt":[
{"r":"sig","x":180,"y":30,"t":"σ"},{"r":"sig","x":422,"y":30,"t":"σ"},{"r":"sig","x":683,"y":30,"t":"σ"},{"r":"sig","x":946,"y":30,"t":"σ"},
{"r":"sube","x":193,"y":33,"t":"e"},{"r":"sube","x":435,"y":33,"t":"e"},{"r":"sube","x":696,"y":33,"t":"e"},{"r":"sube","x":959,"y":33,"t":"e"},
{"r":"eq","x":272,"y":30,"t":"= 0 (nS)"},{"r":"eq","x":527,"y":30,"t":"= 0.2 (nS)"},{"r":"eq","x":788,"y":30,"t":"= 0.4 (nS)"},{"r":"eq","x":1051,"y":30,"t":"= 0.6 (nS)"},
{"r":"gbig","x":88,"y":158,"t":"g"},{"r":"gbig","x":88,"y":362,"t":"g"},
{"r":"gsub","x":93,"y":143,"t":"e,mean = 0 (nS)"},{"r":"gsub","x":93,"y":345,"t":"e,mean = 1 (nS)"},
{"r":"b17","x":60,"y":422,"t":"c"},{"r":"b17","x":118,"y":424,"t":"(0.02 - 0.08)"},
{"r":"b12","x":69.5,"y":422,"t":"PYR,PV"},
{"r":"b17r","x":50,"y":392,"t":"c"},{"r":"b17r","x":50,"y":336,"t":"(0 - 0.55)"},
{"r":"b12r","x":50,"y":382,"t":"PV,PYR"},
{"r":"bar","x":1119,"y":198,"t":"Burst Frequency (Hz)"},
{"r":"ytk","x":70,"y":547,"t":"0.7"},{"r":"ytk","x":70,"y":788,"t":"~0.1"},
{"r":"xtk","x":146,"y":869,"t":"~0.1"},{"r":"xtk","x":474,"y":869,"t":"0.7"},
{"r":"redc","x":257,"y":865,"t":"c"},{"r":"reds","x":276,"y":865,"t":"PYR,PV"},
{"r":"redcr","x":70,"y":738,"t":"c"},{"r":"redsr","x":70,"y":719,"t":"PV,PYR"},
{"r":"mbi","x":97,"y":473,"t":"Scenario B"},{"r":"mbi","x":347,"y":473,"t":"Scenario A"},
{"r":"mag","x":192,"y":473,"t":"Theta rhythms:"},{"r":"mag","x":441,"y":473,"t":"Theta rhythms:"},
{"r":"mag","x":97,"y":494,"t":"EPSC/IPSC PV+ cell ratio > 1"},{"r":"mag","x":347,"y":494,"t":"EPSC/IPSC PV+ cell ratio < 1"},
{"r":"ital","x":256,"y":562,"t":"PV+ cell firing more sparse"},{"r":"ital","x":256,"y":581,"t":"PYR cell firing less sparse"},
{"r":"burst","x":368,"y":697,"t":"Burst frequency increases"},
{"r":"big","x":212,"y":653,"t":"Scenario A"},{"r":"big","x":197,"y":825,"t":"No Theta Rhythm"},
{"r":"bigr","x":121,"y":693,"t":"Scenario B"},
{"r":"pyr","x":730,"y":648,"t":"PYR"},{"r":"pv","x":969,"y":648,"t":"PV+"},
{"r":"oi","x":866,"y":543,"t":"Other"},{"r":"oi","x":866,"y":570,"t":"Input"}
]
},
"concat":[
{"width":204,"height":181,"data":{"name":"cells"},"transform":[{"filter":"datum.p==1"}],"mark":{"type":"rect","strokeWidth":0.6},"encoding":{"x":{"field":"i","type":"ordinal","axis":null,"scale":{"paddingInner":0,"paddingOuter":0}},"y":{"field":"j","type":"ordinal","axis":null,"sort":"descending","scale":{"paddingInner":0,"paddingOuter":0}},"color":{"field":"v","type":"quantitative","scale":{"domain":[0,2.5,7.5,12.5,17.5,20],"range":["#00008f","#0000ff","#00ffff","#ffff00","#ff0000","#800000"],"interpolate":"rgb"},"legend":{"type":"gradient","direction":"vertical","orient":"right","offset":7,"padding":0,"title":null,"gradientLength":181,"gradientThickness":11,"labelExpr":"''","gradientStrokeColor":"#999","gradientStrokeWidth":0.6}},"stroke":{"field":"v","type":"quantitative","scale":{"domain":[0,2.5,7.5,12.5,17.5,20.0001],"range":["#00008f","#0000ff","#00ffff","#ffff00","#ff0000","#800000"],"interpolate":"rgb"},"legend":null}}},
{"width":204,"height":181,"data":{"name":"cells"},"transform":[{"filter":"datum.p==2"}],"mark":{"type":"rect","strokeWidth":0.6},"encoding":{"x":{"field":"i","type":"ordinal","axis":null,"scale":{"paddingInner":0,"paddingOuter":0}},"y":{"field":"j","type":"ordinal","axis":null,"sort":"descending","scale":{"paddingInner":0,"paddingOuter":0}},"color":{"field":"v","type":"quantitative","scale":{"domain":[0,2.5,7.5,12.5,17.5,20],"range":["#00008f","#0000ff","#00ffff","#ffff00","#ff0000","#800000"],"interpolate":"rgb"},"legend":{"type":"gradient","direction":"vertical","orient":"right","offset":7,"padding":0,"title":null,"gradientLength":181,"gradientThickness":11,"labelExpr":"''","gradientStrokeColor":"#999","gradientStrokeWidth":0.6}},"stroke":{"field":"v","type":"quantitative","scale":{"domain":[0,2.5,7.5,12.5,17.5,20.0001],"range":["#00008f","#0000ff","#00ffff","#ffff00","#ff0000","#800000"],"interpolate":"rgb"},"legend":null}}},
{"width":204,"height":181,"data":{"name":"cells"},"transform":[{"filter":"datum.p==3"}],"mark":{"type":"rect","strokeWidth":0.6},"encoding":{"x":{"field":"i","type":"ordinal","axis":null,"scale":{"paddingInner":0,"paddingOuter":0}},"y":{"field":"j","type":"ordinal","axis":null,"sort":"descending","scale":{"paddingInner":0,"paddingOuter":0}},"color":{"field":"v","type":"quantitative","scale":{"domain":[0,2.5,7.5,12.5,17.5,20],"range":["#00008f","#0000ff","#00ffff","#ffff00","#ff0000","#800000"],"interpolate":"rgb"},"legend":{"type":"gradient","direction":"vertical","orient":"right","offset":7,"padding":0,"title":null,"gradientLength":181,"gradientThickness":11,"labelExpr":"''","gradientStrokeColor":"#999","gradientStrokeWidth":0.6}},"stroke":{"field":"v","type":"quantitative","scale":{"domain":[0,2.5,7.5,12.5,17.5,20.0001],"range":["#00008f","#0000ff","#00ffff","#ffff00","#ff0000","#800000"],"interpolate":"rgb"},"legend":null}}},
{"width":204,"height":181,"data":{"name":"cells"},"transform":[{"filter":"datum.p==4"}],"mark":{"type":"rect","strokeWidth":0.6},"encoding":{"x":{"field":"i","type":"ordinal","axis":null,"scale":{"paddingInner":0,"paddingOuter":0}},"y":{"field":"j","type":"ordinal","axis":null,"sort":"descending","scale":{"paddingInner":0,"paddingOuter":0}},"color":{"field":"v","type":"quantitative","scale":{"domain":[0,2.5,7.5,12.5,17.5,20],"range":["#00008f","#0000ff","#00ffff","#ffff00","#ff0000","#800000"],"interpolate":"rgb"},"legend":{"type":"gradient","direction":"vertical","orient":"right","offset":7,"padding":0,"title":null,"gradientLength":181,"gradientThickness":11,"values":[0,5,10,15,20],"labelFont":"Liberation Sans","labelFontSize":17,"labelFontWeight":"bold","labelColor":"#000","labelOffset":6,"labelOverlap":false,"gradientStrokeColor":"#999","gradientStrokeWidth":0.6}},"stroke":{"field":"v","type":"quantitative","scale":{"domain":[0,2.5,7.5,12.5,17.5,20.0001],"range":["#00008f","#0000ff","#00ffff","#ffff00","#ff0000","#800000"],"interpolate":"rgb"},"legend":null}}},
{"width":204,"height":171,"data":{"name":"cells"},"transform":[{"filter":"datum.p==5"}],"mark":{"type":"rect","strokeWidth":0.6},"encoding":{"x":{"field":"i","type":"ordinal","axis":null,"scale":{"paddingInner":0,"paddingOuter":0}},"y":{"field":"j","type":"ordinal","axis":null,"sort":"descending","scale":{"paddingInner":0,"paddingOuter":0}},"color":{"field":"v","type":"quantitative","scale":{"domain":[0,2.5,7.5,12.5,17.5,20],"range":["#00008f","#0000ff","#00ffff","#ffff00","#ff0000","#800000"],"interpolate":"rgb"},"legend":{"type":"gradient","direction":"vertical","orient":"right","offset":7,"padding":0,"title":null,"gradientLength":171,"gradientThickness":11,"labelExpr":"''","gradientStrokeColor":"#999","gradientStrokeWidth":0.6}},"stroke":{"field":"v","type":"quantitative","scale":{"domain":[0,2.5,7.5,12.5,17.5,20.0001],"range":["#00008f","#0000ff","#00ffff","#ffff00","#ff0000","#800000"],"interpolate":"rgb"},"legend":null}}},
{"width":204,"height":171,"data":{"name":"cells"},"transform":[{"filter":"datum.p==6"}],"mark":{"type":"rect","strokeWidth":0.6},"encoding":{"x":{"field":"i","type":"ordinal","axis":null,"scale":{"paddingInner":0,"paddingOuter":0}},"y":{"field":"j","type":"ordinal","axis":null,"sort":"descending","scale":{"paddingInner":0,"paddingOuter":0}},"color":{"field":"v","type":"quantitative","scale":{"domain":[0,2.5,7.5,12.5,17.5,20],"range":["#00008f","#0000ff","#00ffff","#ffff00","#ff0000","#800000"],"interpolate":"rgb"},"legend":{"type":"gradient","direction":"vertical","orient":"right","offset":7,"padding":0,"title":null,"gradientLength":171,"gradientThickness":11,"labelExpr":"''","gradientStrokeColor":"#999","gradientStrokeWidth":0.6}},"stroke":{"field":"v","type":"quantitative","scale":{"domain":[0,2.5,7.5,12.5,17.5,20.0001],"range":["#00008f","#0000ff","#00ffff","#ffff00","#ff0000","#800000"],"interpolate":"rgb"},"legend":null}}},
{"width":204,"height":171,"data":{"name":"cells"},"transform":[{"filter":"datum.p==7"}],"mark":{"type":"rect","strokeWidth":0.6},"encoding":{"x":{"field":"i","type":"ordinal","axis":null,"scale":{"paddingInner":0,"paddingOuter":0}},"y":{"field":"j","type":"ordinal","axis":null,"sort":"descending","scale":{"paddingInner":0,"paddingOuter":0}},"color":{"field":"v","type":"quantitative","scale":{"domain":[0,2.5,7.5,12.5,17.5,20],"range":["#00008f","#0000ff","#00ffff","#ffff00","#ff0000","#800000"],"interpolate":"rgb"},"legend":{"type":"gradient","direction":"vertical","orient":"right","offset":7,"padding":0,"title":null,"gradientLength":171,"gradientThickness":11,"labelExpr":"''","gradientStrokeColor":"#999","gradientStrokeWidth":0.6}},"stroke":{"field":"v","type":"quantitative","scale":{"domain":[0,2.5,7.5,12.5,17.5,20.0001],"range":["#00008f","#0000ff","#00ffff","#ffff00","#ff0000","#800000"],"interpolate":"rgb"},"legend":null}}},
{"width":204,"height":171,"data":{"name":"cells"},"transform":[{"filter":"datum.p==8"}],"mark":{"type":"rect","strokeWidth":0.6},"encoding":{"x":{"field":"i","type":"ordinal","axis":null,"scale":{"paddingInner":0,"paddingOuter":0}},"y":{"field":"j","type":"ordinal","axis":null,"sort":"descending","scale":{"paddingInner":0,"paddingOuter":0}},"color":{"field":"v","type":"quantitative","scale":{"domain":[0,2.5,7.5,12.5,17.5,20],"range":["#00008f","#0000ff","#00ffff","#ffff00","#ff0000","#800000"],"interpolate":"rgb"},"legend":{"type":"gradient","direction":"vertical","orient":"right","offset":7,"padding":0,"title":null,"gradientLength":171,"gradientThickness":11,"values":[0,5,10,15,20],"labelFont":"Liberation Sans","labelFontSize":17,"labelFontWeight":"bold","labelColor":"#000","labelOffset":6,"labelOverlap":false,"gradientStrokeColor":"#999","gradientStrokeWidth":0.6}},"stroke":{"field":"v","type":"quantitative","scale":{"domain":[0,2.5,7.5,12.5,17.5,20.0001],"range":["#00008f","#0000ff","#00ffff","#ffff00","#ff0000","#800000"],"interpolate":"rgb"},"legend":null}}},
{"width":204,"height":468,
"encoding":{"x":{"field":"x","type":"quantitative","axis":null,"scale":{"domain":[72,276],"nice":false,"zero":false}},"y":{"field":"y","type":"quantitative","axis":null,"scale":{"domain":[407,875],"nice":false,"zero":false,"reverse":true}}},
"layer":[
{"data":{"name":"segs"},"transform":[{"filter":"datum.r=='hatch'"}],"mark":{"type":"rule","color":"#3d5cff","strokeWidth":1},"encoding":{"x2":{"field":"x2"},"y2":{"field":"y2"}}},
{"data":{"name":"pts"},"transform":[{"filter":"datum.g!='c'"}],"mark":{"type":"line","interpolate":"cardinal","color":"#8c8c8c","strokeWidth":2.6,"strokeDash":[0.5,4.5],"strokeCap":"round"},"encoding":{"order":{"field":"k","type":"quantitative"},"detail":{"field":"g","type":"nominal"}}},
{"data":{"name":"segs"},"transform":[{"filter":"datum.r=='ax'"}],"mark":{"type":"rule","color":"#000","strokeWidth":3},"encoding":{"x2":{"field":"x2"},"y2":{"field":"y2"}}},
{"data":{"name":"segs"},"transform":[{"filter":"datum.r=='or'"}],"mark":{"type":"rule","color":"#f7941d","strokeWidth":4},"encoding":{"x2":{"field":"x2"},"y2":{"field":"y2"}}},
{"data":{"name":"boxes"},"mark":{"type":"rect","fill":"#fff","stroke":"#555","strokeWidth":1.2},"encoding":{"x2":{"field":"x2"},"y2":{"field":"y2"}}},
{"data":{"name":"syms"},"transform":[{"filter":"datum.r=='bbox'"}],"mark":{"type":"point","shape":"M-1,-0.165L1,-0.165L1,0.165L-1,0.165Z","filled":false,"stroke":"#333","strokeWidth":1.2,"size":58564,"opacity":1},"encoding":{"angle":{"field":"a","type":"quantitative","scale":null}}},
{"data":{"name":"syms"},"transform":[{"filter":"datum.r=='ell'"}],"mark":{"type":"point","shape":"M0,-1C0.138,-1,0.25,-0.552,0.25,0C0.25,0.552,0.138,1,0,1C-0.138,1,-0.25,0.552,-0.25,0C-0.25,-0.552,-0.138,-1,0,-1Z","filled":false,"stroke":"#1f3fff","strokeWidth":3.5,"size":70756,"opacity":1},"encoding":{"angle":{"field":"a","type":"quantitative","scale":null}}},
{"data":{"name":"pts"},"transform":[{"filter":"datum.g=='c'"}],"mark":{"type":"line","interpolate":"cardinal","color":"#1f3fff","strokeWidth":3},"encoding":{"order":{"field":"k","type":"quantitative"}}},
{"data":{"name":"syms"},"transform":[{"filter":"datum.r=='loop1'"}],"mark":{"type":"point","shape":"circle","filled":false,"stroke":"#000","strokeWidth":3,"size":10000,"opacity":1}},
{"data":{"name":"syms"},"transform":[{"filter":"datum.r=='loop2'"}],"mark":{"type":"point","shape":"circle","filled":false,"stroke":"#000","strokeWidth":2.5,"size":2704,"opacity":1}},
{"data":{"name":"syms"},"transform":[{"filter":"datum.r=='pyr'"}],"mark":{"type":"point","shape":"circle","filled":true,"fill":"#fff","stroke":"#000","strokeWidth":3,"size":37636,"opacity":1}},
{"data":{"name":"syms"},"transform":[{"filter":"datum.r=='pv'"}],"mark":{"type":"point","shape":"circle","filled":true,"fill":"#fff","stroke":"#000","strokeWidth":3,"size":8464,"opacity":1}},
{"data":{"name":"syms"},"transform":[{"filter":"datum.r=='tk'"}],"mark":{"type":"point","shape":"triangle-up","filled":true,"color":"#000","size":200,"opacity":1},"encoding":{"angle":{"field":"a","type":"quantitative","scale":null}}},
{"data":{"name":"syms"},"transform":[{"filter":"datum.r=='tk2'"}],"mark":{"type":"point","shape":"triangle-up","filled":true,"color":"#000","size":150,"opacity":1},"encoding":{"angle":{"field":"a","type":"quantitative","scale":null}}},
{"data":{"name":"syms"},"transform":[{"filter":"datum.r=='tb'"}],"mark":{"type":"point","shape":"triangle-up","filled":true,"color":"#1f3fff","size":170,"opacity":1},"encoding":{"angle":{"field":"a","type":"quantitative","scale":null}}},
{"data":{"name":"syms"},"transform":[{"filter":"datum.r=='tg'"}],"mark":{"type":"point","shape":"triangle-up","filled":true,"color":"#8c8c8c","size":90,"opacity":1},"encoding":{"angle":{"field":"a","type":"quantitative","scale":null}}},
{"data":{"name":"syms"},"transform":[{"filter":"datum.r=='to'"}],"mark":{"type":"point","shape":"triangle-up","filled":true,"color":"#f7941d","size":230,"opacity":1},"encoding":{"angle":{"field":"a","type":"quantitative","scale":null}}},
{"data":{"name":"syms"},"transform":[{"filter":"datum.r=='dot1'"}],"mark":{"type":"point","shape":"circle","filled":true,"color":"#000","size":200,"opacity":1}},
{"data":{"name":"syms"},"transform":[{"filter":"datum.r=='dot2'"}],"mark":{"type":"point","shape":"circle","filled":true,"color":"#000","size":60,"opacity":1}},
{"data":{"name":"syms"},"transform":[{"filter":"datum.r=='chev'"}],"mark":{"type":"point","shape":"M-1,-0.8L0,0L-1,0.8","filled":false,"stroke":"#000","strokeWidth":2.5,"size":324,"opacity":1},"encoding":{"angle":{"field":"a","type":"quantitative","scale":null}}},
{"data":{"name":"txt"},"transform":[{"filter":"datum.r=='sig'"}],"mark":{"type":"text","font":"Liberation Serif","fontStyle":"italic","fontSize":22,"align":"left","baseline":"alphabetic","color":"#000"},"encoding":{"text":{"field":"t"}}},
{"data":{"name":"txt"},"transform":[{"filter":"datum.r=='sube'"}],"mark":{"type":"text","font":"Liberation Sans","fontWeight":"bold","fontSize":14,"align":"left","baseline":"alphabetic","color":"#000"},"encoding":{"text":{"field":"t"}}},
{"data":{"name":"txt"},"transform":[{"filter":"datum.r=='eq'"}],"mark":{"type":"text","font":"Liberation Sans","fontWeight":"bold","fontSize":17,"align":"right","baseline":"alphabetic","color":"#000"},"encoding":{"text":{"field":"t"}}},
{"data":{"name":"txt"},"transform":[{"filter":"datum.r=='gbig'"}],"mark":{"type":"text","font":"Liberation Sans","fontWeight":"bold","fontSize":25,"align":"left","baseline":"alphabetic","angle":270,"color":"#000"},"encoding":{"text":{"field":"t"}}},
{"data":{"name":"txt"},"transform":[{"filter":"datum.r=='gsub'"}],"mark":{"type":"text","font":"Liberation Sans","fontWeight":"bold","fontSize":17,"align":"left","baseline":"alphabetic","angle":270,"color":"#000"},"encoding":{"text":{"field":"t"}}},
{"data":{"name":"txt"},"transform":[{"filter":"datum.r=='b17'"}],"mark":{"type":"text","font":"Liberation Sans","fontWeight":"bold","fontSize":17,"align":"left","baseline":"alphabetic","color":"#000"},"encoding":{"text":{"field":"t"}}},
{"data":{"name":"txt"},"transform":[{"filter":"datum.r=='b12'"}],"mark":{"type":"text","font":"Liberation Sans","fontWeight":"bold","fontSize":12,"align":"left","baseline":"alphabetic","color":"#000"},"encoding":{"text":{"field":"t"}}},
{"data":{"name":"txt"},"transform":[{"filter":"datum.r=='b17r'"}],"mark":{"type":"text","font":"Liberation Sans","fontWeight":"bold","fontSize":17,"align":"left","baseline":"alphabetic","angle":270,"color":"#000"},"encoding":{"text":{"field":"t"}}},
{"data":{"name":"txt"},"transform":[{"filter":"datum.r=='b12r'"}],"mark":{"type":"text","font":"Liberation Sans","fontWeight":"bold","fontSize":12,"align":"left","baseline":"alphabetic","angle":270,"color":"#000"},"encoding":{"text":{"field":"t"}}},
{"data":{"name":"txt"},"transform":[{"filter":"datum.r=='bar'"}],"mark":{"type":"text","font":"Liberation Sans","fontWeight":"bold","fontSize":20,"align":"center","baseline":"alphabetic","angle":270,"color":"#000"},"encoding":{"text":{"field":"t"}}},
{"data":{"name":"txt"},"transform":[{"filter":"datum.r=='ytk'"}],"mark":{"type":"text","font":"Liberation Sans","fontWeight":"bold","fontSize":18,"align":"right","baseline":"alphabetic","color":"#000"},"encoding":{"text":{"field":"t"}}},
{"data":{"name":"txt"},"transform":[{"filter":"datum.r=='xtk'"}],"mark":{"type":"text","font":"Liberation Sans","fontWeight":"bold","fontSize":18,"align":"center","baseline":"alphabetic","color":"#000"},"encoding":{"text":{"field":"t"}}},
{"data":{"name":"txt"},"transform":[{"filter":"datum.r=='redc'"}],"mark":{"type":"text","font":"Liberation Sans","fontWeight":"bold","fontSize":34,"align":"left","baseline":"alphabetic","color":"#f0281e"},"encoding":{"text":{"field":"t"}}},
{"data":{"name":"txt"},"transform":[{"filter":"datum.r=='reds'"}],"mark":{"type":"text","font":"Liberation Sans","fontWeight":"bold","fontSize":20,"align":"left","baseline":"alphabetic","color":"#f0281e"},"encoding":{"text":{"field":"t"}}},
{"data":{"name":"txt"},"transform":[{"filter":"datum.r=='redcr'"}],"mark":{"type":"text","font":"Liberation Sans","fontWeight":"bold","fontSize":34,"align":"left","baseline":"alphabetic","angle":270,"color":"#f0281e"},"encoding":{"text":{"field":"t"}}},
{"data":{"name":"txt"},"transform":[{"filter":"datum.r=='redsr'"}],"mark":{"type":"text","font":"Liberation Sans","fontWeight":"bold","fontSize":20,"align":"left","baseline":"alphabetic","angle":270,"color":"#f0281e"},"encoding":{"text":{"field":"t"}}},
{"data":{"name":"txt"},"transform":[{"filter":"datum.r=='mbi'"}],"mark":{"type":"text","font":"Liberation Sans","fontWeight":"bold","fontStyle":"italic","fontSize":17,"align":"left","baseline":"alphabetic","color":"#f43ff0"},"encoding":{"text":{"field":"t"}}},
{"data":{"name":"txt"},"transform":[{"filter":"datum.r=='mag'"}],"mark":{"type":"text","font":"Liberation Sans","fontSize":17,"align":"left","baseline":"alphabetic","color":"#f43ff0"},"encoding":{"text":{"field":"t"}}},
{"data":{"name":"txt"},"transform":[{"filter":"datum.r=='ital'"}],"mark":{"type":"text","font":"Liberation Sans","fontStyle":"italic","fontSize":17,"align":"left","baseline":"alphabetic","color":"#000"},"encoding":{"text":{"field":"t"}}},
{"data":{"name":"txt"},"transform":[{"filter":"datum.r=='burst'"}],"mark":{"type":"text","font":"Liberation Sans","fontSize":17,"align":"center","baseline":"middle","angle":351,"color":"#000"},"encoding":{"text":{"field":"t"}}},
{"data":{"name":"txt"},"transform":[{"filter":"datum.r=='big'"}],"mark":{"type":"text","font":"Liberation Sans","fontWeight":"bold","fontStyle":"italic","fontSize":25,"align":"left","baseline":"alphabetic","color":"#f43ff0"},"encoding":{"text":{"field":"t"}}},
{"data":{"name":"txt"},"transform":[{"filter":"datum.r=='bigr'"}],"mark":{"type":"text","font":"Liberation Sans","fontWeight":"bold","fontStyle":"italic","fontSize":25,"align":"center","baseline":"alphabetic","angle":270,"color":"#f43ff0"},"encoding":{"text":{"field":"t"}}},
{"data":{"name":"txt"},"transform":[{"filter":"datum.r=='pyr'"}],"mark":{"type":"text","font":"Lato","fontSize":34,"align":"center","baseline":"middle","color":"#000"},"encoding":{"text":{"field":"t"}}},
{"data":{"name":"txt"},"transform":[{"filter":"datum.r=='pv'"}],"mark":{"type":"text","font":"Lato","fontSize":27,"align":"center","baseline":"middle","color":"#000"},"encoding":{"text":{"field":"t"}}},
{"data":{"name":"txt"},"transform":[{"filter":"datum.r=='oi'"}],"mark":{"type":"text","font":"Lato","fontSize":20,"align":"center","baseline":"alphabetic","color":"#000"},"encoding":{"text":{"field":"t"}}}
]}
]
}
